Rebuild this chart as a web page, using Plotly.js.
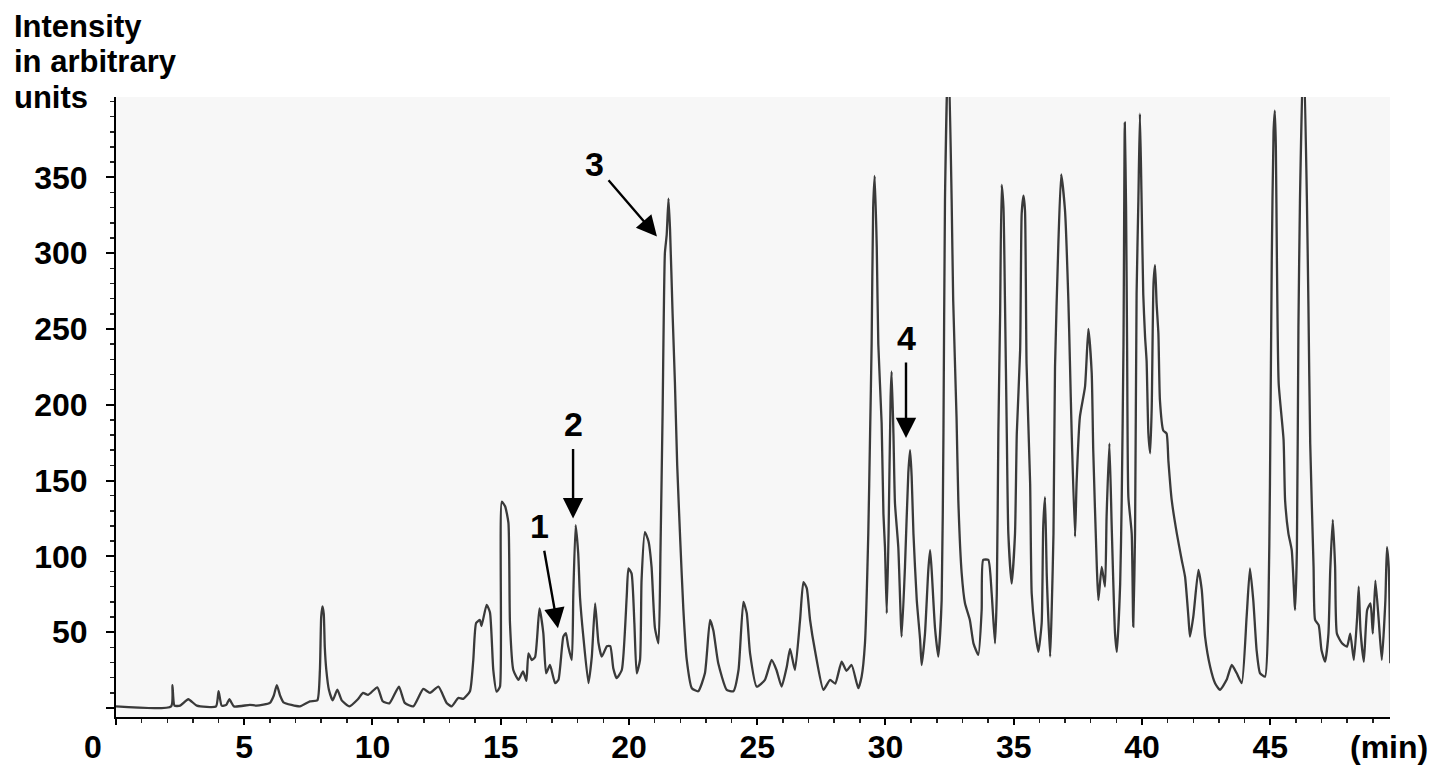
<!DOCTYPE html>
<html>
<head>
<meta charset="utf-8">
<script src="https://cdn.plot.ly/plotly-3.0.1.min.js"></script>
<style>
  html, body { margin: 0; padding: 0; background: white; }
  #chromGraph { width: 1441px; height: 777px; }
</style>
</head>
<body>
<div id="chromGraph"></div>
<script>
// retention time (min)
var timeMin = [
  0, 2.15, 2.2, 2.28, 2.5, 2.82, 3.15, 3.9, 4.0, 4.12, 4.3, 4.42, 4.6, 5.22, 5.48,
  6.0, 6.15, 6.27, 6.4, 6.53, 7.17, 7.56, 7.85, 7.95, 8.0, 8.05, 8.1, 8.14, 8.2, 8.3,
  8.45, 8.63, 8.8, 9.1, 9.43, 9.63, 9.83, 10.19, 10.4, 10.66, 11.03, 11.26, 11.59, 11.98, 12.24,
  12.57, 12.89, 13.08, 13.35, 13.54, 13.8, 13.93, 14.04, 14.19, 14.25, 14.45, 14.58, 14.71, 14.84, 14.97,
  15.04, 15.17, 15.3, 15.36, 15.49, 15.69, 15.87, 16.0, 16.08, 16.21, 16.34, 16.51, 16.66, 16.77, 16.92,
  17.12, 17.25, 17.44, 17.54, 17.63, 17.77, 17.83, 17.92, 18.02, 18.09, 18.22, 18.42, 18.55, 18.68, 18.81,
  18.94, 19.14, 19.27, 19.39, 19.52, 19.72, 19.91, 19.98, 20.1, 20.21, 20.3, 20.43, 20.49, 20.62, 20.76,
  20.88, 21.01, 21.15, 21.23, 21.31, 21.4, 21.47, 21.54, 21.6, 21.7, 21.79, 21.88, 22.0, 22.12, 22.25,
  22.45, 22.7, 22.96, 23.16, 23.29, 23.48, 23.81, 24.07, 24.27, 24.46, 24.59, 24.72, 24.98, 25.3, 25.56,
  25.75, 25.95, 26.15, 26.28, 26.47, 26.67, 26.8, 26.93, 27.06, 27.25, 27.58, 27.84, 28.04, 28.29, 28.48,
  28.68, 28.94, 29.07, 29.2, 29.33, 29.4, 29.46, 29.52, 29.58, 29.66, 29.72, 29.85, 29.92, 29.98, 30.05,
  30.12, 30.2, 30.24, 30.31, 30.37, 30.5, 30.63, 30.76, 30.89, 30.96, 31.02, 31.09, 31.22, 31.35, 31.41,
  31.54, 31.67, 31.74, 31.8, 31.93, 32.06, 32.19, 32.26, 32.32, 32.45, 32.58, 32.64, 32.77, 32.84, 32.97,
  33.1, 33.29, 33.43, 33.62, 33.75, 33.81, 34.01, 34.14, 34.27, 34.34, 34.4, 34.47, 34.53, 34.6, 34.66,
  34.73, 34.79, 34.92, 35.05, 35.12, 35.25, 35.31, 35.38, 35.44, 35.5, 35.64, 35.7, 35.83, 35.96, 36.09,
  36.15, 36.22, 36.29, 36.42, 36.48, 36.55, 36.61, 36.74, 36.85, 37.0, 37.13, 37.19, 37.26, 37.39, 37.45,
  37.58, 37.78, 37.91, 38.04, 38.1, 38.24, 38.3, 38.43, 38.56, 38.62, 38.73, 38.82, 38.95, 39.02, 39.15,
  39.21, 39.28, 39.33, 39.38, 39.42, 39.47, 39.6, 39.66, 39.73, 39.79, 39.86, 39.92, 39.98, 40.05, 40.12,
  40.18, 40.25, 40.32, 40.38, 40.45, 40.51, 40.57, 40.64, 40.7, 40.83, 40.96, 41.03, 41.16, 41.36, 41.55,
  41.68, 41.81, 41.87, 42.0, 42.2, 42.33, 42.46, 42.66, 42.85, 43.04, 43.3, 43.5, 43.69, 43.89, 44.08,
  44.21, 44.34, 44.47, 44.6, 44.8, 44.93, 44.99, 45.06, 45.13, 45.18, 45.22, 45.26, 45.33, 45.52, 45.58,
  45.71, 45.84, 45.97, 46.04, 46.1, 46.16, 46.3, 46.43, 46.49, 46.56, 46.69, 46.75, 46.89, 47.0, 47.14,
  47.27, 47.34, 47.44, 47.53, 47.6, 47.8, 47.99, 48.12, 48.26, 48.39, 48.45, 48.52, 48.65, 48.78, 48.91,
  49.0, 49.1, 49.23, 49.35, 49.49, 49.55, 49.62, 49.68
];

// detector response, arbitrary units
var intensity = [
  1, 1, 15, 1.5, 1.5, 5.7, 1.5, 1, 11, 1.5, 2, 5.7, 1, 2, 1.5,
  3.3, 8, 15, 8, 3.7, 1, 4.3, 5, 25, 60, 67, 62, 40, 25, 12,
  5, 12, 5, 1, 5.7, 9.9, 8.6, 13.6, 4.4, 3, 14, 3.3, 1, 12.5, 9.9,
  14, 3.3, 1, 6.6, 6, 11, 31.6, 56, 58, 54, 68, 63, 25, 10.7, 14,
  136, 133, 122, 56, 25, 18.5, 24, 17.8, 36, 31.6, 33.6, 65.7, 49.4, 22.8, 28.3,
  16.3, 18.5, 47, 49.4, 40.7, 31.6, 75.6, 120.6, 102, 73, 47, 16.3, 33.6, 69, 43,
  33.8, 40.7, 40.7, 26, 19.6, 25, 73, 92, 88.7, 56, 22.8, 31.6, 84, 116, 110,
  93, 53, 42.6, 106, 194, 300, 312, 336, 316, 260, 215, 160, 110, 65, 32,
  13, 11, 22.8, 58, 51, 29.4, 11.9, 11, 25, 70, 62.6, 36, 14, 18.5, 31.6,
  25, 14, 27, 39, 25, 58, 83, 79, 58, 38, 11.9, 18.5, 16, 30.5, 24.5,
  28.3, 13, 20.6, 42.6, 115, 181, 240, 330, 351, 304, 240, 188, 128, 106, 62.4,
  115, 205, 222, 181, 135, 106, 47, 93, 155, 170, 153, 115, 71, 45, 28.3,
  49, 91, 104, 91, 53, 33.8, 71, 181, 335, 440, 335, 269, 192, 137, 89,
  69, 58, 42.6, 35, 64.6, 97.6, 97.6, 75.6, 42.6, 75.6, 181, 260, 345, 330, 267,
  181, 115, 82, 115, 181, 236, 326, 338, 328, 227, 148, 75.6, 51, 37, 56,
  119.5, 139, 86.5, 33.8, 64.6, 115, 225, 306, 352, 328, 269, 229, 181, 113, 148,
  192, 212, 250, 221, 170, 93, 71, 93, 80, 126, 174.5, 119.5, 49, 37, 82,
  137, 240, 386, 330, 240, 139, 115, 53.6, 115, 273, 335, 392, 340, 273, 245,
  229, 181, 168, 198, 280, 292, 267, 247, 203, 183, 181, 163, 137, 115, 97.6,
  86.5, 60, 47, 60, 91, 78, 47, 27, 16.3, 11.9, 18.5, 28.3, 23, 16.3, 60,
  92, 71, 38, 23, 20.6, 66.8, 148, 295, 380, 394, 370, 297, 214, 177, 137,
  115, 104, 64.6, 104, 251, 335, 440, 335, 264.5, 174, 93, 58, 54.6, 38, 30.5,
  49, 91, 124, 93, 49, 42.6, 40.4, 49, 31.6, 60, 80, 51, 30.5, 64.6, 69,
  49, 84, 58, 31.6, 71, 106, 93, 29.4
];

var yTickVals = [0, 50, 100, 150, 200, 250, 300, 350];
var yTickText = ["", "50", "100", "150", "200", "250", "300", "350"];
var xTickVals = [0, 5, 10, 15, 20, 25, 30, 35, 40, 45];
var xTickText = ["", "5", "10", "15", "20", "25", "30", "35", "40", "45"];

// y axis title, one line per entry
var yTitleLines = ["Intensity", "in arbitrary", "units"];

// marked peaks: label, tip time, tip intensity, text offset (px)
var peakLabels = ["1", "2", "3", "4"];
var peakTime = [17.23, 17.82, 21.09, 30.8];
var peakLevel = [52.5, 125, 311, 178];
var peakDx = [-18, 0, -62, 0];
var peakDy = [-102, -94, -72, -100];

function drawChart() {
    var boldFont = { family: "Liberation Sans, Arial, sans-serif", weight: "bold", color: "black" };

    var trace = {
        x: timeMin,
        y: intensity,
        mode: "lines",
        line: { color: "#3a3a3a", width: 2.3, shape: "spline", smoothing: 0.5 },
        hoverinfo: "x+y",
    };

    var annotations = [];
    for (var i = 0; i < peakLabels.length; i++) {
        annotations.push({
            x: peakTime[i],
            y: peakLevel[i],
            text: peakLabels[i],
            showarrow: true,
            ax: peakDx[i],
            ay: peakDy[i],
            arrowhead: 2,
            arrowsize: 1.7,
            arrowwidth: 2.4,
            arrowcolor: "black",
            standoff: 0,
            startstandoff: 4,
            font: Object.assign({ size: 34 }, boldFont),
        });
    }

    // title lines stacked above the y axis (tighter than plotly's line height)
    for (var j = 0; j < yTitleLines.length; j++) {
        annotations.push({
            xref: "paper", yref: "paper",
            x: -0.082, y: (717 - 26 - j * 35.5) / 620,
            xanchor: "left", yanchor: "middle",
            showarrow: false,
            text: yTitleLines[j],
            font: Object.assign({ size: 31 }, boldFont),
        });
    }
    // "0" of the time axis is set left of the origin
    annotations.push({
        xref: "x", yref: "paper",
        x: 0, y: -0.048, xshift: -23,
        xanchor: "center", yanchor: "middle",
        showarrow: false,
        text: "0",
        font: Object.assign({ size: 32 }, boldFont),
    });
    annotations.push({
        xref: "paper", yref: "paper",
        x: 0.999, y: -0.048,
        xanchor: "center", yanchor: "middle",
        showarrow: false,
        text: "(min)",
        font: Object.assign({ size: 32 }, boldFont),
    });

    var layout = {
        width: 1441,
        height: 777,
        showlegend: false,
        paper_bgcolor: "white",
        plot_bgcolor: "#f7f7f7",
        margin: { l: 116, r: 51, t: 97, b: 60, pad: 0 },
        xaxis: {
            range: [0, 49.67],
            showgrid: false,
            zeroline: false,
            showline: true,
            linecolor: "black",
            linewidth: 2,
            tickmode: "array",
            tickvals: xTickVals,
            ticktext: xTickText,
            ticks: "outside",
            ticklen: 6,
            tickwidth: 2,
            tickcolor: "black",
            ticklabelstandoff: -5,
            tickfont: Object.assign({ size: 32 }, boldFont),
            minor: { tickmode: "linear", tick0: 0, dtick: 1, ticks: "outside", ticklen: 4, tickwidth: 1.5, tickcolor: "#222" },
        },
        yaxis: {
            range: [-6, 403],
            showgrid: false,
            zeroline: false,
            showline: true,
            linecolor: "black",
            linewidth: 2,
            tickmode: "array",
            tickvals: yTickVals,
            ticktext: yTickText,
            ticks: "outside",
            ticklen: 8,
            tickwidth: 2,
            tickcolor: "black",
            ticklabelstandoff: 12,
            tickfont: Object.assign({ size: 32 }, boldFont),
            minor: { tickmode: "linear", tick0: 0, dtick: 10, ticks: "outside", ticklen: 4, tickwidth: 1.5, tickcolor: "#222" },
        },
        annotations: annotations,
    };

    Plotly.newPlot("chromGraph", [trace], layout, { displayModeBar: false, staticPlot: true });
}

drawChart();
</script>
</body>
</html>
